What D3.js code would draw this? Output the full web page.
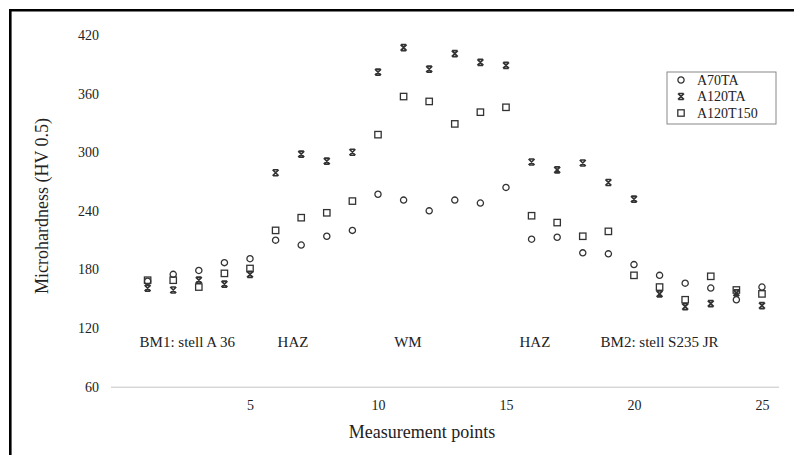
<!DOCTYPE html>
<html>
<head>
<meta charset="utf-8">
<script src="https://cdn.jsdelivr.net/npm/d3@7"></script>
<style>
  body { margin: 0; background: #fff; }
  text { font-family: "Liberation Serif", "Times New Roman", serif; fill: #222; }
</style>
</head>
<body>
<div id="chart"></div>
<script>
const points = [1, 2, 3, 4, 5, 6, 7, 8, 9, 10, 11, 12, 13, 14, 15, 16, 17, 18, 19, 20, 21, 22, 23, 24, 25];
const a70ta = [168, 175, 179, 187, 191, 210, 205, 214, 220, 257, 251, 240, 251, 248, 264, 211, 213, 197, 196, 185, 174, 166, 161, 149, 162];
const a120ta = [161, 159, 169, 165, 175, 279, 298, 291, 300, 382, 407, 385, 401, 392, 389, 290, 282, 289, 269, 252, 155, 142, 145, 156, 143];
const a120t150 = [169, 169, 162, 176, 181, 220, 233, 238, 250, 318, 357, 352, 329, 341, 346, 235, 228, 214, 219, 174, 162, 149, 173, 159, 155];

const seriesNames = ["A70TA", "A120TA", "A120T150"];
const xTicks = [5, 10, 15, 20, 25];
const yTicks = [60, 120, 180, 240, 300, 360, 420];

const zoneLabels = ["BM1: stell A 36", "HAZ", "WM", "HAZ", "BM2: stell S235 JR"];
const zonePoints = [2.55, 6.68, 11.17, 16.13, 21.0];
const zoneLevel = 106;

const svgWidth = 794;
const svgHeight = 455;

const svg = d3.select("#chart")
    .append("svg")
    .attr("width", svgWidth)
    .attr("height", svgHeight);

// x runs a little past the first and last point, like the original
const xScale = d3.scaleLinear()
    .domain([-0.45, 25.65])
    .range([110.5, 778.6]);

const yScale = d3.scaleLinear()
    .domain([60, 420])
    .range([386.7, 35]);

// frame of the figure (top and left edges only)
svg.append("path")
    .attr("d", "M10.3,455V10.3H794")
    .attr("fill", "none")
    .attr("stroke", "#000")
    .attr("stroke-width", 2.6);

const xAxis = svg.append("g")
    .attr("transform", `translate(0, ${yScale(60)})`)
    .call(d3.axisBottom(xScale).tickValues(xTicks).tickSize(0).tickPadding(13.5));
xAxis.select(".domain").attr("stroke", "#c4c4c4").attr("stroke-width", 1);
xAxis.selectAll("text").style("font-size", "14px").style("font-family", "Liberation Serif").attr("fill", "#222");

const yAxis = svg.append("g")
    .attr("transform", "translate(110, 0)")
    .call(d3.axisLeft(yScale).tickValues(yTicks).tickSize(0).tickPadding(11));
yAxis.select(".domain").remove();
yAxis.selectAll("text").style("font-size", "14px").style("font-family", "Liberation Serif").attr("fill", "#222");

const markerColor = "#333";

function drawMarker(sel, kind) {
    if (kind === 0) {
        sel.append("circle").attr("r", 3.1);
    } else if (kind === 1) {
        sel.append("path").attr("d", "M-3,-3L3,3M-3,3L3,-3M-2.6,-3H2.6M-2.6,3H2.6")
            .attr("stroke-width", 1.7);
    } else {
        sel.append("rect").attr("x", -3.2).attr("y", -3.2).attr("width", 6.4).attr("height", 6.4);
    }
}

const series = [a70ta, a120ta, a120t150];

series.forEach((vals, k) => {
    const g = svg.append("g")
        .attr("fill", "none")
        .attr("stroke", markerColor)
        .attr("stroke-width", 1.3);
    g.selectAll("g.pt")
        .data(points)
        .enter()
        .append("g")
        .attr("class", "pt")
        .attr("transform", (d, i) => `translate(${xScale(d)}, ${yScale(vals[i])})`)
        .each(function() { drawMarker(d3.select(this), k); });
});

// zone labels
svg.append("g")
    .selectAll("text")
    .data(zoneLabels)
    .enter()
    .append("text")
    .attr("x", (d, i) => xScale(zonePoints[i]))
    .attr("y", yScale(zoneLevel))
    .attr("dy", "0.35em")
    .attr("text-anchor", "middle")
    .style("font-size", "15px")
    .text(d => d);

// legend
const legend = svg.append("g").attr("transform", "translate(667, 72)");
legend.append("rect")
    .attr("width", 109)
    .attr("height", 52)
    .attr("fill", "#fff")
    .attr("stroke", "#888")
    .attr("stroke-width", 1);

seriesNames.forEach((name, k) => {
    const row = legend.append("g").attr("transform", `translate(0, ${8 + k * 16.5})`);
    const m = row.append("g")
        .attr("transform", "translate(14, 0)")
        .attr("fill", "none")
        .attr("stroke", markerColor)
        .attr("stroke-width", 1.3);
    drawMarker(m, k);
    row.append("text")
        .attr("x", 30)
        .attr("dy", "0.35em")
        .style("font-size", "14px")
        .text(name);
});

svg.append("text")
    .attr("x", 422)
    .attr("y", 437.5)
    .attr("text-anchor", "middle")
    .style("font-size", "18px")
    .text("Measurement points");

svg.append("text")
    .attr("transform", "translate(42, 206) rotate(-90)")
    .attr("dy", "0.35em")
    .attr("text-anchor", "middle")
    .style("font-size", "18px")
    .text("Microhardness (HV 0.5)");
</script>
</body>
</html>
